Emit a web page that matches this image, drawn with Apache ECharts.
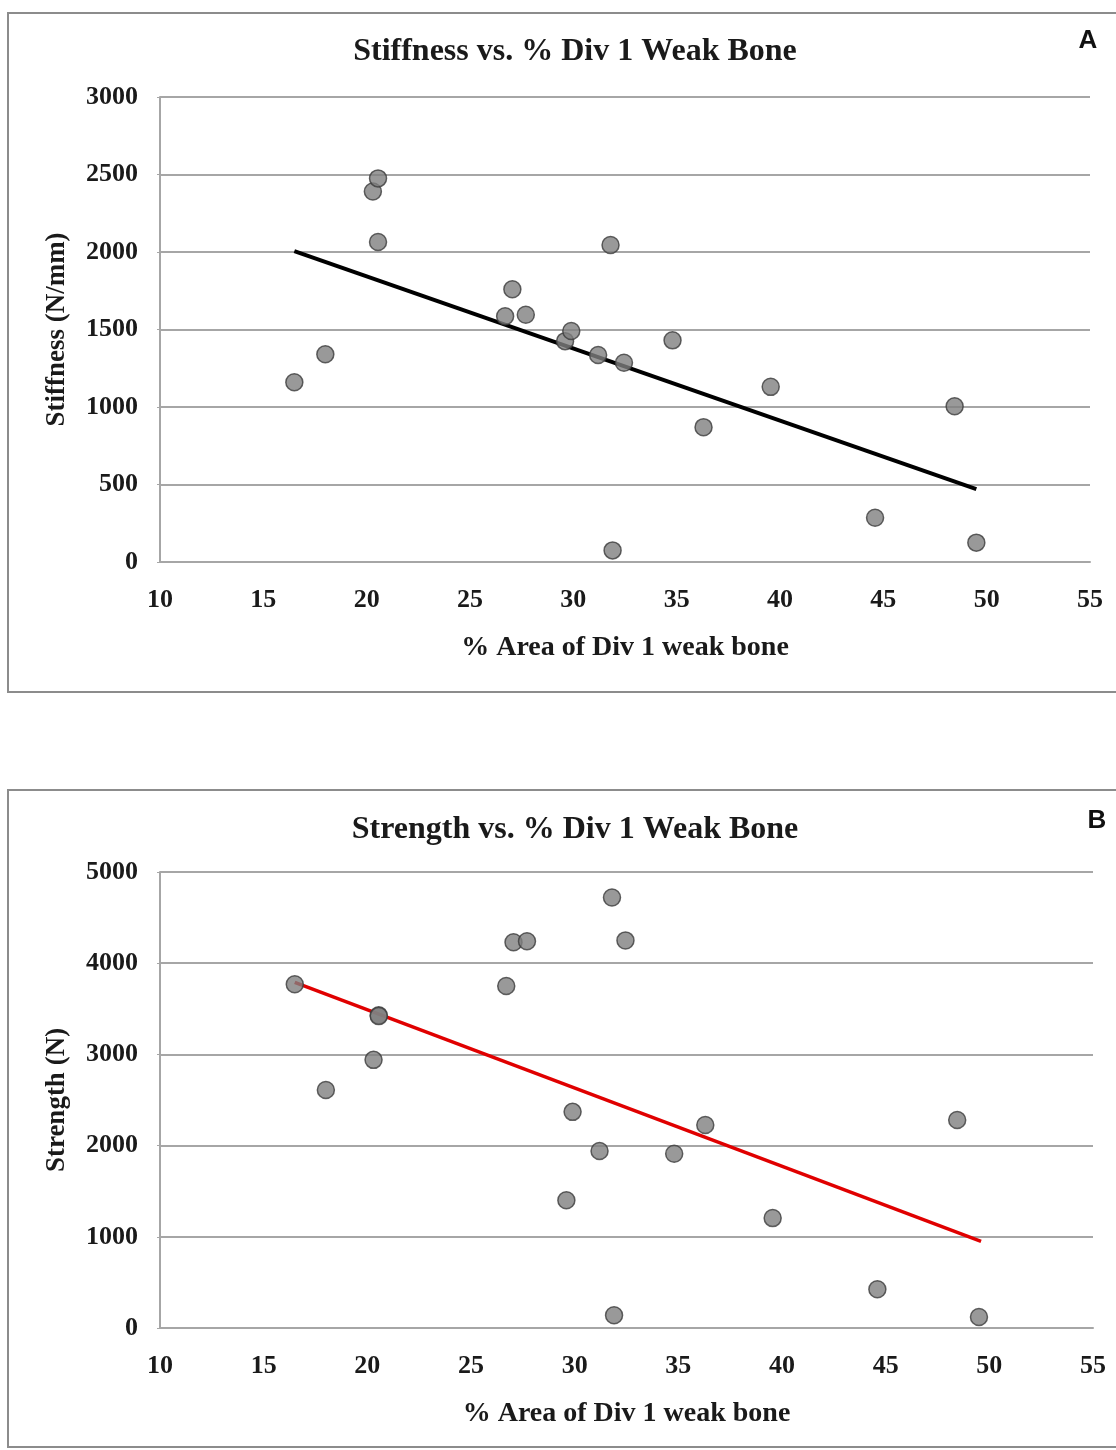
<!DOCTYPE html>
<html>
<head>
<meta charset="utf-8">
<script src="https://cdn.jsdelivr.net/npm/echarts@6/dist/echarts.min.js"></script>
<style>
  html, body { margin: 0; padding: 0; background: #fff; }
  #myChart { width: 1116px; height: 1450px; }
</style>
</head>
<body>
<div id="myChart"></div>
<script>
// % area of Div 1 weak bone (same specimens in both panels)
var pctArea = [16.5, 18.0, 20.3, 20.55, 20.55, 26.7, 27.05, 27.7, 29.6, 29.9,
               31.2, 31.8, 31.9, 32.45, 34.8, 36.3, 39.55, 44.6, 48.45, 49.5];
// panel A - stiffness (N/mm)
var stiffness = [1160, 1340, 2390, 2475, 2065, 1585, 1760, 1595, 1425, 1490,
                 1335, 2045, 75, 1285, 1430, 870, 1130, 285, 1005, 125];
// panel B - strength (N)
var strength = [3770, 2610, 2940, 3430, 3420, 3750, 4230, 4240, 1400, 2370,
                1940, 4720, 140, 4250, 1910, 2225, 1205, 425, 2280, 120];
// trend lines (start / end)
var trendA = [[16.5, 2005], [49.5, 470]];
var trendB = [[16.5, 3790], [49.6, 950]];

var xTicks = { min: 10, max: 55, interval: 5 };
var yTicksA = { min: 0, max: 3000, interval: 500 };
var yTicksB = { min: 0, max: 5000, interval: 1000 };

var serif = 'Liberation Serif';
var textCol = '#1a1a1a';
var gridCol = '#a6a6a6';

function pairs(xs, ys) {
  return xs.map(function (x, i) { return [x, ys[i]]; });
}

// plain numbers, no thousands separator
function plain(v) { return String(v); }

function xAxisOf(idx) {
  return {
    type: 'value', gridIndex: idx,
    min: xTicks.min, max: xTicks.max, interval: xTicks.interval,
    name: '% Area of Div 1 weak bone',
    nameLocation: 'middle', nameGap: 72,
    nameTextStyle: { fontFamily: serif, fontWeight: 'bold', fontSize: 28, color: textCol },
    axisLine: { show: true, lineStyle: { color: gridCol, width: 2 } },
    axisTick: { show: false },
    splitLine: { show: false },
    axisLabel: { margin: 25, formatter: plain, fontFamily: serif, fontWeight: 'bold', fontSize: 26, color: textCol }
  };
}

function yAxisOf(idx, t, name) {
  return {
    type: 'value', gridIndex: idx,
    min: t.min, max: t.max, interval: t.interval,
    name: name,
    nameLocation: 'middle', nameGap: 89, nameRotate: 90,
    nameTextStyle: { fontFamily: serif, fontWeight: 'bold', fontSize: 27, color: textCol },
    axisLine: { show: true, lineStyle: { color: gridCol, width: 2 } },
    axisTick: { show: true, length: 3, lineStyle: { color: gridCol } },
    splitLine: { show: true, lineStyle: { color: gridCol, width: 2 } },
    axisLabel: { margin: 22, formatter: plain, fontFamily: serif, fontWeight: 'bold', fontSize: 26, color: textCol }
  };
}

function scatterOf(idx, ys) {
  return {
    type: 'scatter', xAxisIndex: idx, yAxisIndex: idx, z: 3,
    symbol: 'circle', symbolSize: 17,
    itemStyle: { color: '#808080', borderColor: '#3c3c3c', borderWidth: 1.5 },
    data: pairs(pctArea, ys)
  };
}

function trendOf(idx, pts, col, w) {
  return {
    type: 'line', xAxisIndex: idx, yAxisIndex: idx, z: 2,
    symbol: 'none', lineStyle: { color: col, width: w },
    data: pts
  };
}

var myChart = echarts.init(document.getElementById('myChart'));
myChart.setOption({
  animation: false,
  title: [
    { text: 'Stiffness vs. % Div 1 Weak Bone', left: 570, top: 31, textAlign: 'center',
      textStyle: { fontFamily: serif, fontWeight: 'bold', fontSize: 32, color: textCol } },
    { text: 'Strength vs. % Div 1 Weak Bone', left: 570, top: 809, textAlign: 'center',
      textStyle: { fontFamily: serif, fontWeight: 'bold', fontSize: 32, color: textCol } }
  ],
  graphic: [
    // panel frames
    { type: 'rect', shape: { x: 8, y: 13, width: 1120, height: 679 },
      style: { fill: null, stroke: '#8c8c8c', lineWidth: 2 }, z: 0 },
    { type: 'rect', shape: { x: 8, y: 790, width: 1120, height: 657 },
      style: { fill: null, stroke: '#8c8c8c', lineWidth: 2 }, z: 0 },
    // panel letters
    { type: 'text', x: 1088, y: 41,
      style: { text: 'A', font: 'bold 26px "Liberation Sans"', fill: '#111', align: 'center', verticalAlign: 'middle' } },
    { type: 'text', x: 1097, y: 821,
      style: { text: 'B', font: 'bold 26px "Liberation Sans"', fill: '#111', align: 'center', verticalAlign: 'middle' } }
  ],
  grid: [
    { left: 160, top: 97, width: 930, height: 465 },
    { left: 160, top: 872, width: 933, height: 456 }
  ],
  xAxis: [xAxisOf(0), xAxisOf(1)],
  yAxis: [yAxisOf(0, yTicksA, 'Stiffness (N/mm)'), yAxisOf(1, yTicksB, 'Strength (N)')],
  series: [
    trendOf(0, trendA, '#000000', 4),
    scatterOf(0, stiffness),
    trendOf(1, trendB, '#e00000', 3.5),
    scatterOf(1, strength)
  ]
});
</script>
</body>
</html>
